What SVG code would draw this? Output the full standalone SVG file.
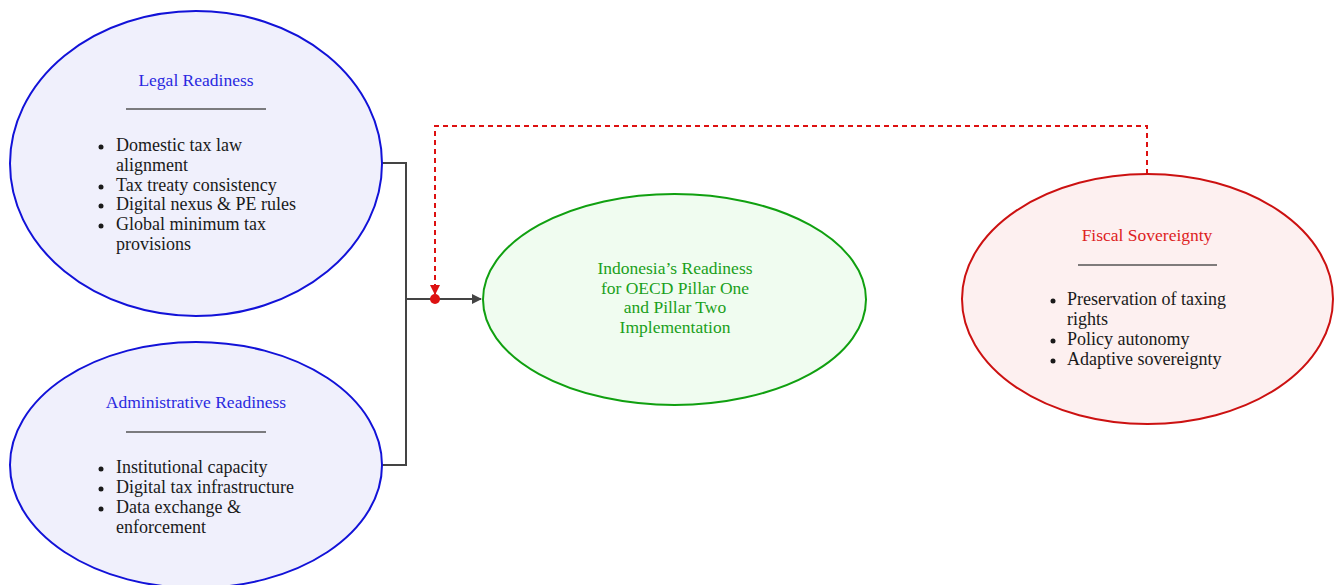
<svg xmlns="http://www.w3.org/2000/svg" width="1336" height="585" viewBox="0 0 1336 585">
<defs>
<style>
.t{font-family:"Liberation Serif","DejaVu Serif",serif;font-size:17.5px}
.i{font-size:18px}
.b{fill:#1a1a1a}
.sep{stroke:#555;stroke-width:1.3}
.conn{fill:none;stroke:#444;stroke-width:2}
.dash{fill:none;stroke:#dd1111;stroke-width:2;stroke-dasharray:5 4}
</style>
<marker id="arr" viewBox="0 0 10 10" refX="9" refY="5" markerWidth="10" markerHeight="10" markerUnits="userSpaceOnUse" orient="auto"><path d="M0,0 L10,5 L0,10 z" fill="#444"/></marker>
<marker id="arrR" viewBox="0 0 10 10" refX="9" refY="5" markerWidth="10" markerHeight="10" markerUnits="userSpaceOnUse" orient="auto"><path d="M0,0 L10,5 L0,10 z" fill="#dd1111"/></marker>
</defs>
<rect width="1336" height="585" fill="#fff"/>
<g id="connectors">
<path class="conn" d="M382,163 H406 V465 H382"/>
<path class="conn" d="M406,299 H481" marker-end="url(#arr)"/>
<path class="dash" d="M1147,174 V126 H435 V294" marker-end="url(#arrR)"/>
<circle cx="435" cy="299" r="5" fill="#dd1111"/>
</g>
<g id="legal">
<ellipse cx="196" cy="163.5" rx="186" ry="152.5" fill="#f0f0fc" stroke="#1212d8" stroke-width="2"/>
<text class="t" x="196" y="86" text-anchor="middle" fill="#2a2ae0">Legal Readiness</text>
<line class="sep" x1="126" y1="109" x2="266" y2="109"/>
<g class="t i b">
<circle cx="101" cy="147" r="2.5"/><text x="116" y="151">Domestic tax law</text>
<text x="116" y="171">alignment</text>
<circle cx="101" cy="187" r="2.5"/><text x="116" y="191">Tax treaty consistency</text>
<circle cx="101" cy="206" r="2.5"/><text x="116" y="210">Digital nexus &amp; PE rules</text>
<circle cx="101" cy="226" r="2.5"/><text x="116" y="230">Global minimum tax</text>
<text x="116" y="250">provisions</text>
</g>
</g>
<g id="admin">
<ellipse cx="196" cy="465" rx="186" ry="123" fill="#f0f0fc" stroke="#1212d8" stroke-width="2"/>
<text class="t" x="196" y="408" text-anchor="middle" fill="#2a2ae0">Administrative Readiness</text>
<line class="sep" x1="126" y1="432" x2="266" y2="432"/>
<g class="t i b">
<circle cx="101" cy="469" r="2.5"/><text x="116" y="473">Institutional capacity</text>
<circle cx="101" cy="489" r="2.5"/><text x="116" y="493">Digital tax infrastructure</text>
<circle cx="101" cy="509" r="2.5"/><text x="116" y="513">Data exchange &amp;</text>
<text x="116" y="533">enforcement</text>
</g>
</g>
<g id="center">
<ellipse cx="674.5" cy="299.5" rx="191.5" ry="105.5" fill="#f0fcf0" stroke="#10a010" stroke-width="2"/>
<g class="t" fill="#1aa01a" text-anchor="middle">
<text x="675" y="274">Indonesia’s Readiness</text>
<text x="675" y="294">for OECD Pillar One</text>
<text x="675" y="313">and Pillar Two</text>
<text x="675" y="333">Implementation</text>
</g>
</g>
<g id="fiscal">
<ellipse cx="1147.5" cy="299" rx="185.5" ry="125" fill="#fdf0f0" stroke="#cc1111" stroke-width="2"/>
<text class="t" x="1147" y="241" text-anchor="middle" fill="#dd2222">Fiscal Sovereignty</text>
<line class="sep" x1="1078" y1="265" x2="1217" y2="265"/>
<g class="t i b">
<circle cx="1053" cy="301" r="2.5"/><text x="1067" y="305">Preservation of taxing</text>
<text x="1067" y="325">rights</text>
<circle cx="1053" cy="341" r="2.5"/><text x="1067" y="345">Policy autonomy</text>
<circle cx="1053" cy="361" r="2.5"/><text x="1067" y="365">Adaptive sovereignty</text>
</g>
</g>
</svg>
